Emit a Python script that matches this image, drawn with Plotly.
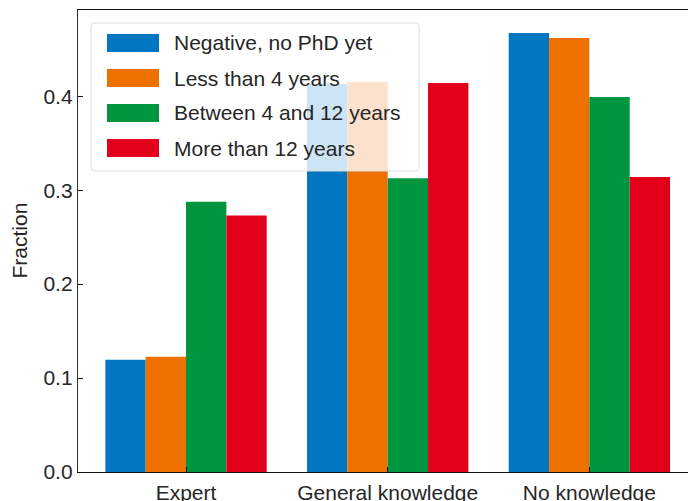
import plotly.graph_objects as go

categories = ["Expert", "General knowledge", "No knowledge"]
series_names = ["Negative, no PhD yet", "Less than 4 years",
                "Between 4 and 12 years", "More than 12 years"]
neg_no_phd = [0.1195, 0.4131, 0.4673]
less_4 = [0.1227, 0.4155, 0.4620]
between_4_12 = [0.2876, 0.3128, 0.3993]
more_12 = [0.2730, 0.4141, 0.3141]
series_values = [neg_no_phd, less_4, between_4_12, more_12]
colors = ["#0077C0", "#EE7100", "#009640", "#E2001A"]
y_ticks = [0.0, 0.1, 0.2, 0.3, 0.4]

W, H = 688, 501
L, R, T, B = 78, 0, 10, 29
PW, PH = W - L - R, H - T - B

FONT = "Liberation Sans, Arial, sans-serif"
TXT = "#262626"
FS = 21

fig = go.Figure()
for name, vals, col in zip(series_names, series_values, colors):
    fig.add_trace(go.Bar(x=list(range(len(categories))), y=vals, name=name,
                         marker=dict(color=col, line=dict(width=0)),
                         showlegend=False, hoverinfo="skip"))

def px_x(p):
    return (p - L) / PW

def px_y(p):
    return (H - B - p) / PH

shapes = []
# legend box with rounded corners
x0, x1, y0, y1 = 91, 419, 23, 171
r = 4
rx, ry = r / PW, r / PH
X0, X1, Y0, Y1 = px_x(x0), px_x(x1), px_y(y1), px_y(y0)
path = (f"M {X0+rx},{Y0} L {X1-rx},{Y0} Q {X1},{Y0} {X1},{Y0+ry} "
        f"L {X1},{Y1-ry} Q {X1},{Y1} {X1-rx},{Y1} "
        f"L {X0+rx},{Y1} Q {X0},{Y1} {X0},{Y1-ry} "
        f"L {X0},{Y0+ry} Q {X0},{Y0} {X0+rx},{Y0} Z")
shapes.append(dict(type="path", path=path, xref="paper", yref="paper",
                   fillcolor="rgba(255,255,255,0.8)",
                   line=dict(color="#dddddd", width=1), layer="above"))
annotations = []
row_centers = [43, 78, 113, 148]
for name, col, cy in zip(series_names, colors, row_centers):
    shapes.append(dict(type="rect", xref="paper", yref="paper",
                       x0=px_x(107), x1=px_x(159),
                       y0=px_y(cy + 9), y1=px_y(cy - 9),
                       fillcolor=col, line=dict(width=0), layer="above"))
    annotations.append(dict(x=px_x(172), y=px_y(cy), xref="paper", yref="paper",
                            text=name, showarrow=False, xanchor="left",
                            yanchor="middle",
                            font=dict(family=FONT, size=FS, color=TXT)))

annotations.append(dict(x=0, y=0.5, xref="paper", yref="paper", text="Fraction",
                        textangle=-90, showarrow=False, xanchor="right",
                        yanchor="middle", xshift=-46,
                        font=dict(family=FONT, size=FS, color=TXT)))

fig.update_layout(
    width=W, height=H,
    margin=dict(l=L, r=R, t=T, b=B, pad=0),
    paper_bgcolor="white", plot_bgcolor="white",
    barmode="group", bargap=0.2, bargroupgap=0,
    shapes=shapes, annotations=annotations,
    font=dict(family=FONT, size=FS, color=TXT),
)
fig.update_xaxes(
    range=[-0.5356, 2.489],
    tickmode="array", tickvals=list(range(len(categories))), ticktext=categories,
    ticks="inside", ticklen=5, tickwidth=1.2, tickcolor="#111111",
    showline=True, linecolor="#111111", linewidth=1.3, mirror=True,
    showgrid=False, zeroline=False, automargin=False,
    tickfont=dict(family=FONT, size=FS, color=TXT),
    ticklabelstandoff=2,
)
fig.update_yaxes(
    range=[0, 0.4918],
    tickmode="array", tickvals=y_ticks, ticktext=[f"{v:.1f}" for v in y_ticks],
    ticks="inside", ticklen=5, tickwidth=1.2, tickcolor="#111111",
    showline=True, linecolor="#333333", linewidth=1.3, mirror=False,
    showgrid=False, zeroline=False, automargin=False,
    tickfont=dict(family=FONT, size=FS, color=TXT),
    ticklabelstandoff=0,
)

fig.write_html("out.html", config={"displayModeBar": False},
               post_script="document.body.style.margin='0';document.body.style.overflow='hidden';")
